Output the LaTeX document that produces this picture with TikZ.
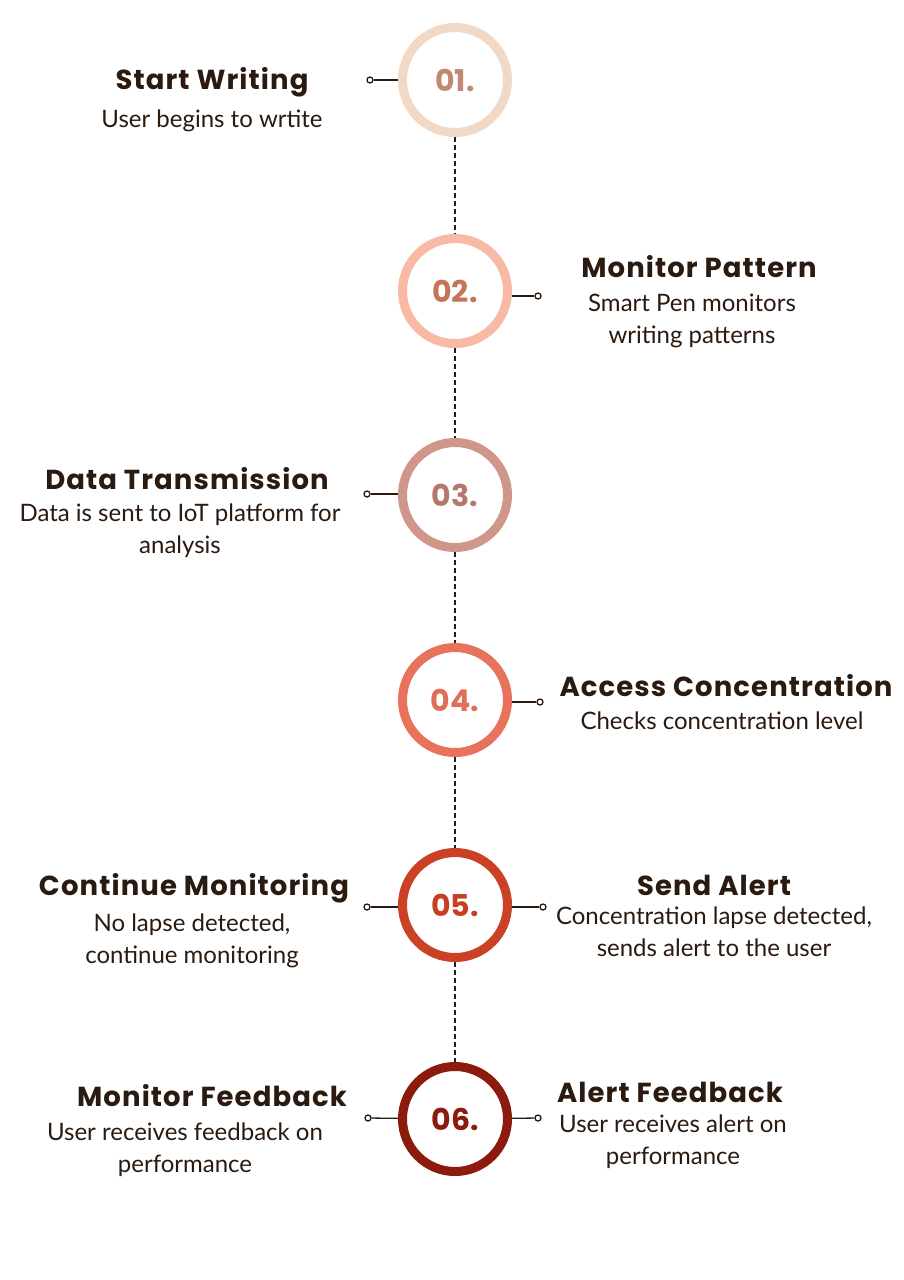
\documentclass[tikz,border=0pt]{standalone}
\usepackage{fontspec}
\newfontfamily\headfont{Poppins}[LetterSpace=4]
\newfontfamily\numfont{Poppins}
\newfontfamily\bodyfont{Lato}
\usetikzlibrary{positioning}
\definecolor{ink}{HTML}{2A1A10}
\definecolor{ringA}{HTML}{F2D9C6}
\definecolor{ringB}{HTML}{F8BAA4}
\definecolor{ringC}{HTML}{CF9689}
\definecolor{ringD}{HTML}{E8735D}
\definecolor{ringE}{HTML}{CB4126}
\definecolor{ringF}{HTML}{8C1B0E}
\definecolor{numA}{HTML}{C08A72}
\definecolor{numB}{HTML}{C6735A}
\definecolor{numC}{HTML}{B5776B}
\definecolor{numD}{HTML}{E06F58}
\definecolor{numE}{HTML}{C63F20}
\definecolor{numF}{HTML}{8C1B0E}
\tikzset{
  ring/.style={circle, draw=#1, line width=9pt, minimum size=105pt, inner sep=0pt, font=\numfont\bfseries\fontsize{30}{30}\selectfont},
  pindot/.style={circle, draw=ink, fill=white, line width=1.3pt, inner sep=0pt, minimum size=6pt},
  pinline/.style={draw=ink, line width=1.3pt},
  linkline/.style={draw=ink, line width=1.2pt, dash pattern=on 5pt off 3pt},
  headtext/.style={anchor=base, text=ink, font=\headfont\bfseries\fontsize{27.5}{30}\selectfont},
  bodytext/.style={anchor=base, text=ink, align=center, font=\bodyfont\fontsize{24}{32}\selectfont},
}
\begin{document}
\begin{tikzpicture}[x=1pt, y=-1pt]
		%%%%% START %%%%%
		\useasboundingbox[fill=white] (0, 0) rectangle (904, 1280);
		
		\node[ring=ringA, text=numA] (s1) at (455, 80) {01.};
		\node[ring=ringB, text=numB] (s2) at (455, 291) {02.};
		\node[ring=ringC, text=numC] (s3) at (455, 495) {03.};
		\node[ring=ringD, text=numD] (s4) at (455, 700) {04.};
		\node[ring=ringE, text=numE] (s5) at (455, 905) {05.};
		\node[ring=ringF, text=numF] (s6) at (455, 1119) {06.};
		
		\draw[linkline] (s1) -- (s2);
		\draw[linkline] (s2) -- (s3);
		\draw[linkline] (s3) -- (s4);
		\draw[linkline] (s4) -- (s5);
		\draw[linkline] (s5) -- (s6);
		
		\node[pindot] (d1) at (370, 80) {};
		\node[pindot] (d2) at (538, 296) {};
		\node[pindot] (d3) at (367, 494) {};
		\node[pindot] (d4) at (540, 702) {};
		\node[pindot] (d5l) at (367, 907) {};
		\node[pindot] (d5r) at (543, 907) {};
		\node[pindot] (d6l) at (368, 1118) {};
		\node[pindot] (d6r) at (538, 1118) {};
		
		\draw[pinline] (s1) -- (d1);
		\draw[pinline] (s2.east |- d2) -- (d2);
		\draw[pinline] (s3.west |- d3) -- (d3);
		\draw[pinline] (s4.east |- d4) -- (d4);
		\draw[pinline] (s5.west |- d5l) -- (d5l);
		\draw[pinline] (s5.east |- d5r) -- (d5r);
		\draw[pinline] (s6) -- (d6l);
		\draw[pinline] (s6) -- (d6r);
		
		% two-line texts sit on the baseline of their last line
		\node[headtext] (t1) at (212, 89) {Start Writing};
		\node[bodytext] (b1) at (212, 127) {User begins to wrtite};
		
		\node[headtext] (t2) at (699, 277) {Monitor Pattern};
		\node[bodytext] (b2) at (692, 343) {Smart Pen monitors\\ writing patterns};
		
		\node[headtext] (t3) at (187, 489) {Data Transmission};
		\node[bodytext] (b3) at (180, 553) {Data is sent to IoT platform for\\ analysis};
		
		\node[headtext] (t4) at (726, 696) {Access Concentration};
		\node[bodytext] (b4) at (722, 729) {Checks concentration level};
		
		\node[headtext] (t5l) at (194, 895) {Continue Monitoring};
		\node[bodytext] (b5l) at (192, 963) {No lapse detected,\\ continue monitoring};
		
		\node[headtext] (t5r) at (714, 895) {Send Alert};
		\node[bodytext] (b5r) at (714, 956) {Concentration lapse detected,\\ sends alert to the user};
		
		\node[headtext] (t6l) at (212, 1106) {Monitor Feedback};
		\node[bodytext] (b6l) at (185, 1172) {User receives feedback on\\ performance};
		
		\node[headtext] (t6r) at (670, 1102) {Alert Feedback};
		\node[bodytext] (b6r) at (673, 1164) {User receives alert on\\ performance};
		
		%%%%% END %%%%%
	\end{tikzpicture}
\end{document}
